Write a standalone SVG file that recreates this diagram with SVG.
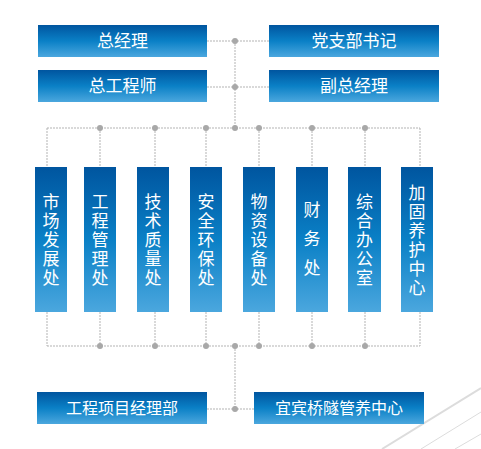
<svg xmlns="http://www.w3.org/2000/svg" width="481" height="449" viewBox="0 0 481 449">
<defs>
<linearGradient id="g" x1="0" y1="0" x2="0" y2="1">
<stop offset="0" stop-color="#00559f"/>
<stop offset="0.5" stop-color="#0a80c6"/>
<stop offset="1" stop-color="#4ba7de"/>
</linearGradient>
<style>
.b{fill:url(#g)}
.t{fill:#ffffff;font-family:"Noto Sans CJK SC","Noto Sans",sans-serif;font-size:17px;text-anchor:middle}
.s{font-size:16px}
.l{stroke:#b3b3b3;stroke-width:1;stroke-dasharray:2 1;fill:none}
.d{fill:#a8a8a8}
</style>
</defs>
<g id="deco" fill="none" stroke="#dcdcdc">
<line x1="382" y1="449" x2="481" y2="388" stroke-width="2"/>
<line x1="421" y1="449" x2="481" y2="412" stroke-width="1"/>
<line x1="455" y1="449" x2="481" y2="434" stroke-width="1"/>
</g>
<g id="connectors">
<path class="l" d="M207 41H269M207 87H269M235 41V128M47 128H420M47 128V167M100 128V167M155 128V167M206 128V167M259 128V167M312 128V167M365 128V167M420 128V167M47 312V346M100 312V346M155 312V346M206 312V346M259 312V346M312 312V346M365 312V346M420 312V346M47 346H420M235 346V409M207 409H254"/>
<circle class="d" cx="235" cy="41" r="3"/>
<circle class="d" cx="235" cy="87" r="3"/>
<circle class="d" cx="100" cy="128" r="3"/>
<circle class="d" cx="155" cy="128" r="3"/>
<circle class="d" cx="206" cy="128" r="3"/>
<circle class="d" cx="235" cy="128" r="3"/>
<circle class="d" cx="259" cy="128" r="3"/>
<circle class="d" cx="312" cy="128" r="3"/>
<circle class="d" cx="365" cy="128" r="3"/>
<circle class="d" cx="100" cy="346" r="3"/>
<circle class="d" cx="155" cy="346" r="3"/>
<circle class="d" cx="206" cy="346" r="3"/>
<circle class="d" cx="235" cy="346" r="3"/>
<circle class="d" cx="259" cy="346" r="3"/>
<circle class="d" cx="312" cy="346" r="3"/>
<circle class="d" cx="365" cy="346" r="3"/>
<circle class="d" cx="235" cy="409" r="3"/>
</g>
<g id="n1"><rect class="b" x="38" y="25" width="169" height="32"/><text class="t" x="122.5" y="47">总经理</text></g>
<g id="n2"><rect class="b" x="269" y="25" width="170" height="32"/><text class="t" x="354" y="47">党支部书记</text></g>
<g id="n3"><rect class="b" x="38" y="70" width="169" height="32"/><text class="t" x="122.5" y="92">总工程师</text></g>
<g id="n4"><rect class="b" x="269" y="70" width="170" height="32"/><text class="t" x="354" y="92">副总经理</text></g>
<g id="v1"><rect class="b" x="35" y="167" width="32" height="145"/><text class="t" x="51"><tspan x="51" y="208">市</tspan><tspan x="51" y="227">场</tspan><tspan x="51" y="246">发</tspan><tspan x="51" y="265">展</tspan><tspan x="51" y="284">处</tspan></text></g>
<g id="v2"><rect class="b" x="84" y="167" width="32" height="145"/><text class="t" x="100"><tspan x="100" y="208">工</tspan><tspan x="100" y="227">程</tspan><tspan x="100" y="246">管</tspan><tspan x="100" y="265">理</tspan><tspan x="100" y="284">处</tspan></text></g>
<g id="v3"><rect class="b" x="137" y="167" width="32" height="145"/><text class="t" x="153"><tspan x="153" y="208">技</tspan><tspan x="153" y="227">术</tspan><tspan x="153" y="246">质</tspan><tspan x="153" y="265">量</tspan><tspan x="153" y="284">处</tspan></text></g>
<g id="v4"><rect class="b" x="190" y="167" width="32" height="145"/><text class="t" x="206"><tspan x="206" y="208">安</tspan><tspan x="206" y="227">全</tspan><tspan x="206" y="246">环</tspan><tspan x="206" y="265">保</tspan><tspan x="206" y="284">处</tspan></text></g>
<g id="v5"><rect class="b" x="243" y="167" width="32" height="145"/><text class="t" x="259"><tspan x="259" y="208">物</tspan><tspan x="259" y="227">资</tspan><tspan x="259" y="246">设</tspan><tspan x="259" y="265">备</tspan><tspan x="259" y="284">处</tspan></text></g>
<g id="v6"><rect class="b" x="296" y="167" width="32" height="145"/><text class="t" x="312"><tspan x="312" y="216">财</tspan><tspan x="312" y="245">务</tspan><tspan x="312" y="274">处</tspan></text></g>
<g id="v7"><rect class="b" x="348" y="167" width="33" height="145"/><text class="t" x="364.5"><tspan x="364.5" y="208">综</tspan><tspan x="364.5" y="227">合</tspan><tspan x="364.5" y="246">办</tspan><tspan x="364.5" y="265">公</tspan><tspan x="364.5" y="284">室</tspan></text></g>
<g id="v8"><rect class="b" x="401" y="167" width="32" height="145"/><text class="t" x="417"><tspan x="417" y="199">加</tspan><tspan x="417" y="218">固</tspan><tspan x="417" y="237">养</tspan><tspan x="417" y="256">护</tspan><tspan x="417" y="275">中</tspan><tspan x="417" y="294">心</tspan></text></g>
<g id="n5"><rect class="b" x="37" y="392" width="170" height="32"/><text class="t s" x="122" y="414">工程项目经理部</text></g>
<g id="n6"><rect class="b" x="254" y="392" width="170" height="32"/><text class="t s" x="339" y="414">宜宾桥隧管养中心</text></g>
</svg>
